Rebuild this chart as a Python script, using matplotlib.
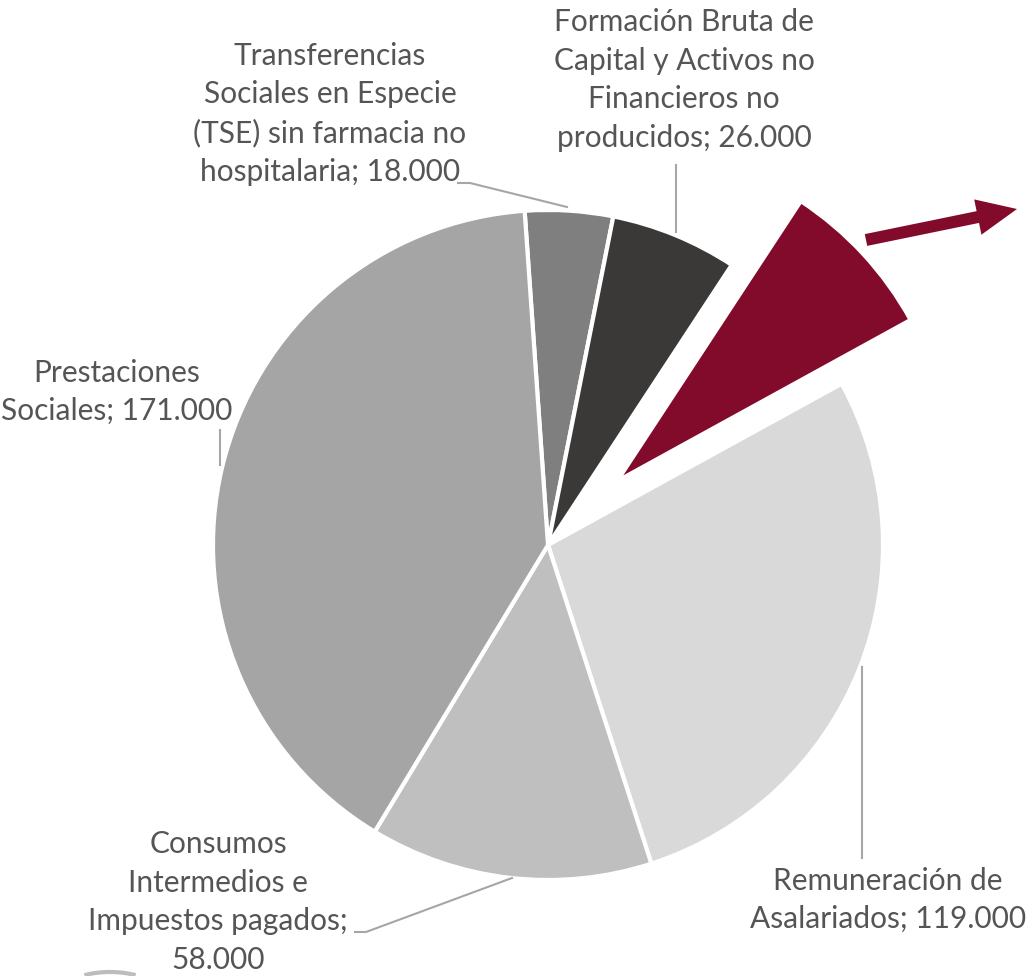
import matplotlib.pyplot as plt
from matplotlib.patches import FancyArrow, Arc

# slices, clockwise from the top
labels = ["Transferencias\nSociales en Especie\n(TSE) sin farmacia no\nhospitalaria; 18.000",
          "Formación Bruta de\nCapital y Activos no\nFinancieros no\nproducidos; 26.000",
          "",
          "Remuneración de\nAsalariados; 119.000",
          "Consumos\nIntermedios e\nImpuestos pagados;\n58.000",
          "Prestaciones\nSociales; 171.000"]
values = [18000, 26000, 33000, 119000, 58000, 171000]
colors = ["#7F7F7F", "#3A3938", "#820A2B", "#D9D9D9", "#BFBFBF", "#A5A5A5"]

W, H = 1028, 976
R = 335

def Y(y):
    return H - y

plt.rcParams['font.family'] = ['Lato', 'DejaVu Sans']

fig = plt.figure(figsize=(W / 100, H / 100), dpi=100)
ax = fig.add_axes([0, 0, 1, 1])

# explode is in data units here (radius is in pixels)
explode = [0, 0, 94, 0, 0, 0]
ax.pie(values, colors=colors, explode=explode, startangle=94, counterclock=False,
       center=(548, Y(545)), radius=R,
       wedgeprops=dict(edgecolor="white", linewidth=3))
ax.set_xlim(0, W)
ax.set_ylim(0, H)
ax.set_aspect("equal")
ax.axis("off")

txt = dict(fontsize=21.5, color="#555555", ha="center", va="center",
           linespacing=1.45, fontweight="normal")
ax.text(330, Y(114), labels[0], **txt)
ax.text(684, Y(80), labels[1], **txt)
ax.text(888, Y(900), labels[3], **txt)
ax.text(218, Y(902), labels[4], **txt)
ax.text(117, Y(392), labels[5], **txt)

# leader lines
lc = dict(color="#A6A6A6", lw=1.5)
ax.plot([458, 470, 567], [Y(183), Y(183), Y(207)], **lc)
ax.plot([676, 676], [Y(165), Y(232)], **lc)
ax.plot([862, 862], [Y(667), Y(858)], **lc)
ax.plot([220, 220], [Y(430), Y(465)], **lc)
ax.plot([355, 366, 512], [Y(932), Y(932), Y(878)], **lc)

ax.add_patch(FancyArrow(866, Y(240), 151, 31, width=12, head_width=36,
                        head_length=40, length_includes_head=True,
                        color="#820A2B", lw=0))

ax.add_patch(Arc((110, Y(990)), 90, 36, theta1=30, theta2=150,
                 color="#BDBDBD", lw=3))

fig.savefig("out.png", dpi=100)
